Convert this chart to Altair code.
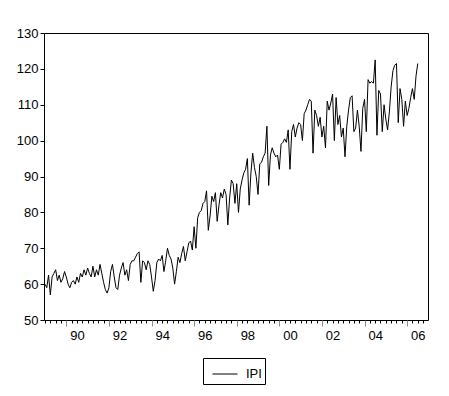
import altair as alt
import pandas as pd

start_year = 1989
ipi = [
    60.0, 59.0, 62.5, 57.0, 62.0, 63.0, 64.0, 61.0, 62.5, 60.5, 61.5, 63.5,
    62.0, 60.0, 59.0, 60.5, 61.0, 60.0, 62.0, 60.5, 63.0, 62.0, 64.0, 62.5,
    64.5, 63.0, 62.0, 65.0, 62.0, 64.0, 62.5, 65.5, 63.0, 60.5, 58.5, 57.5,
    59.0, 63.5, 65.5, 62.0, 59.0, 58.5, 62.5, 64.5, 66.0, 62.5, 64.0, 61.0,
    65.5, 66.5, 66.5, 67.5, 68.5, 69.0, 60.5, 66.5, 66.0, 64.0, 66.5, 65.5,
    62.0, 58.0, 61.0, 66.0, 67.0, 66.5, 68.0, 63.5, 66.5, 70.0, 68.0, 67.0,
    64.5, 60.0, 63.5, 67.5, 66.0, 68.5, 70.5, 66.5, 69.0, 71.5, 72.0, 69.5,
    76.0, 70.0, 78.5, 80.0, 80.5, 82.5, 83.0, 86.0, 75.0, 79.0, 84.5, 83.0,
    85.5, 77.5, 82.0, 85.5, 84.0, 86.5, 85.0, 76.5, 84.0, 89.0, 88.0, 82.5,
    88.0, 80.0, 86.5, 89.0, 91.0, 92.0, 95.0, 82.0, 91.0, 96.5, 92.5, 90.0,
    85.0, 93.5, 94.0, 95.5, 96.5, 104.0, 87.5, 96.0, 98.0, 96.5, 95.5, 96.0,
    92.0, 99.0, 99.5, 100.5, 99.5, 103.0, 92.0, 102.5, 104.5, 101.0, 103.5, 105.0,
    104.5, 100.0, 107.5, 108.5, 110.0, 111.5, 111.0, 96.5, 108.5, 107.0, 104.0, 106.5,
    101.0, 104.0, 98.0, 111.0, 108.5, 110.5, 113.0, 100.0, 112.0, 104.5, 107.0, 101.0,
    103.5, 95.5, 104.0, 108.5, 112.0, 112.5, 102.5, 103.5, 108.5, 104.0, 97.0, 109.0,
    111.5, 102.5, 117.0, 116.0, 116.5, 116.0, 122.5, 101.5, 114.0, 113.0, 102.5, 110.0,
    106.0, 103.0, 108.0, 115.0, 119.5, 121.0, 121.5, 105.0, 114.5, 111.5, 104.0, 111.0,
    107.0, 109.0, 112.0, 114.5, 111.5, 118.0, 121.5,
]
y_ticks = [50, 60, 70, 80, 90, 100, 110, 120, 130]
x_ticks = [start_year + q / 4 for q in range(0, 18 * 4)]

df = pd.DataFrame({
    "t": [start_year + i / 12 for i in range(len(ipi))],
    "IPI": ipi,
    "series": ["IPI"] * len(ipi),
})

x_axis = alt.Axis(
    values=x_ticks,
    labelExpr="(datum.value % 2 == 0.5) ? slice(toString(floor(datum.value)), 2) : ''",
    labelOverlap=False,
    labelFlush=False,
    tickSize={"condition": {"test": "datum.value % 2 == 0", "value": 6}, "value": 3},
    tickColor={"condition": {"test": "datum.value % 2 == 0", "value": "#888888"}, "value": "black"},
    labelPadding=6,
    grid=False,
    domain=False,
    title=None,
    labelFont="Liberation Sans",
    labelFontSize=13,
    labelColor="black",
)
y_axis = alt.Axis(
    values=y_ticks,
    tickSize=4,
    tickColor="black",
    labelPadding=2,
    grid=False,
    domain=False,
    title=None,
    labelFont="Liberation Sans",
    labelFontSize=13,
    labelColor="black",
)

chart = alt.Chart(df).mark_line(strokeWidth=1, clip=True).encode(
    x=alt.X("t:Q", scale=alt.Scale(domain=[1988.953, 2006.98], nice=False, zero=False), axis=x_axis),
    y=alt.Y("IPI:Q", scale=alt.Scale(domain=[50, 130], nice=False, zero=False), axis=y_axis),
    color=alt.Color(
        "series:N",
        scale=alt.Scale(domain=["IPI"], range=["black"]),
        legend=alt.Legend(
            title=None,
            orient="none",
            legendX=159,
            legendY=325,
            symbolType="stroke",
            symbolSize=625,
            symbolStrokeWidth=1,
            symbolOffset=6,
            labelOffset=8,
            labelExpr="datum.label + '\u00a0\u00a0'",
            strokeColor="black",
            fillColor="white",
            padding=3,
            labelFont="Liberation Sans",
            labelFontSize=13,
            labelColor="black",
        ),
    ),
).properties(
    width=384,
    height=287,
    autosize=alt.AutoSizeParams(type="none"),
    padding={"left": 44, "top": 33, "right": 21, "bottom": 76},
).configure(
    background="white",
).configure_view(
    stroke="black",
    strokeWidth=1,
    strokeOpacity=1,
)

chart.save("out.html", embed_options={"renderer": "svg", "actions": False})
